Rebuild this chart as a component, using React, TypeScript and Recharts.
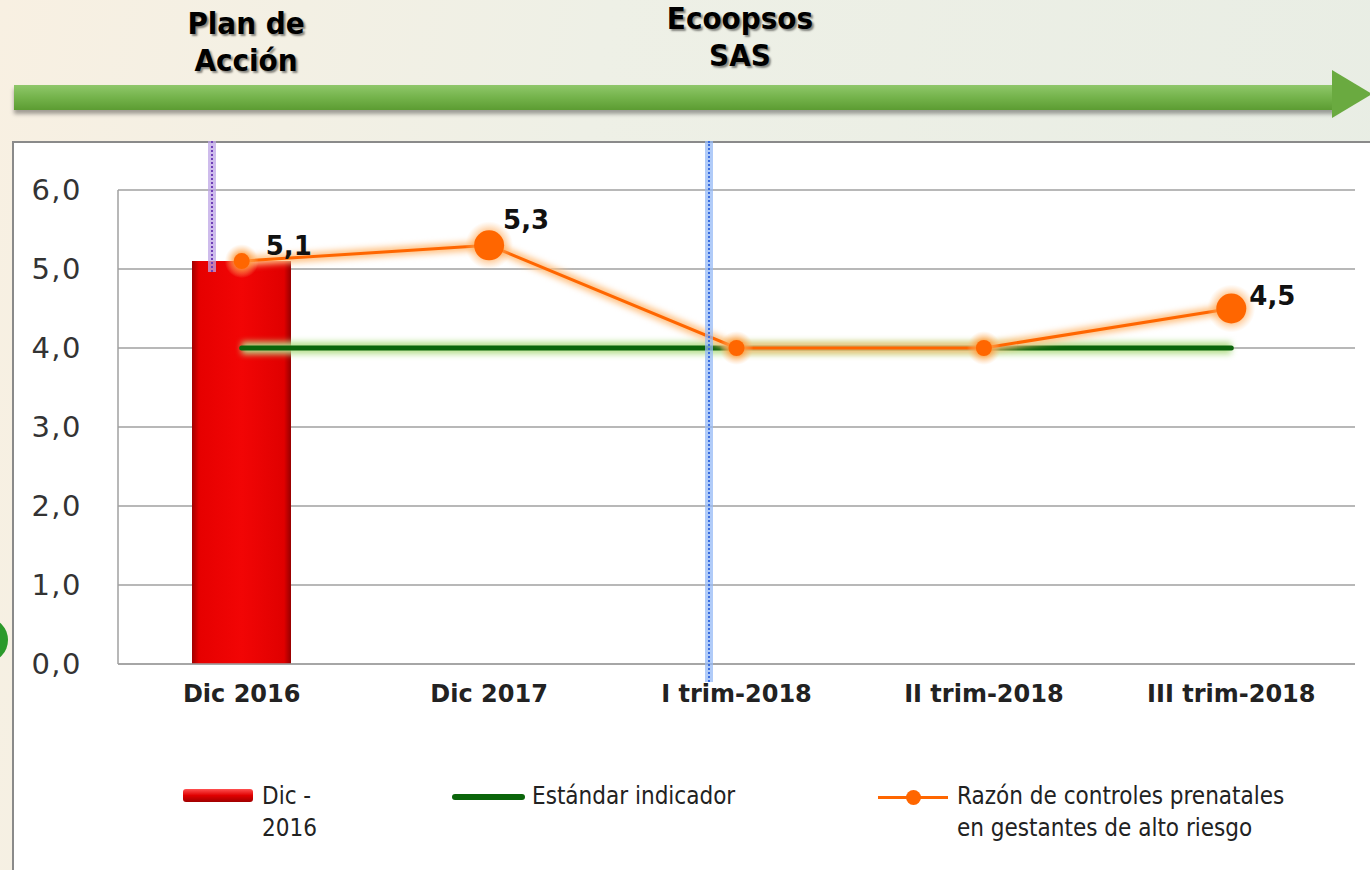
import { ComposedChart, Bar, Line, XAxis, YAxis, CartesianGrid } from "recharts"

const categories = ["Dic 2016", "Dic 2017", "I trim-2018", "II trim-2018", "III trim-2018"]
const barValues = [5.1, null, null, null, null]
const standardValues = [4.0, 4.0, 4.0, 4.0, 4.0]
const ratioValues = [5.1, 5.3, 4.0, 4.0, 4.5]
const yTicks = [0, 1, 2, 3, 4, 5, 6]
const labelledPoints = [0, 1, 4]

const data = categories.map((name, i) => ({
  name,
  dic2016: barValues[i],
  estandar: standardValues[i],
  razon: ratioValues[i],
}))

const dotRadius = [8, 15, 8, 8, 15]
const labelOffset = [
  [24, -14],
  [14, -24],
  [18, -11],
]

const fmt = (v: number) => v.toFixed(1).replace(".", ",")

const RatioDot = (props: any) => {
  const { cx, cy, index } = props
  if (cx == null || cy == null) return null
  return (
    <g key={index}>
      <circle cx={cx} cy={cy} r={dotRadius[index] + 9} fill="url(#dotHalo)" />
      <circle cx={cx} cy={cy} r={dotRadius[index]} fill="#ff6600" />
    </g>
  )
}

const RatioLabel = (props: any) => {
  const { x, y, value, index } = props
  const k = labelledPoints.indexOf(index)
  if (k < 0) return null
  return (
    <text
      x={x + labelOffset[k][0]}
      y={y + labelOffset[k][1]}
      dominantBaseline="middle"
      fontFamily="DejaVu Sans"
      fontWeight="bold"
      fontSize={26}
      fill="#111"
    >
      {fmt(value)}
    </text>
  )
}

const legendText: React.CSSProperties = {
  position: "absolute",
  fontFamily: "'DejaVu Sans Condensed', 'DejaVu Sans'",
  fontSize: 24,
  lineHeight: "32px",
  color: "#222",
}

export default function App() {
  return (
    <div
      style={{
        position: "fixed",
        left: 0,
        top: 0,
        width: 1370,
        height: 870,
        overflow: "hidden",
        background: "linear-gradient(100deg, #f8f0e2 0%, #eef0e6 40%, #e8ede4 100%)",
      }}
    >
      <style>{`.glow { filter: blur(3px); }`}</style>

      {/* header */}
      {[
        { lines: ["Plan de", "Acción"], cx: 246, top: 5 },
        { lines: ["Ecoopsos", "SAS"], cx: 740, top: 0 },
      ].map((h) => (
        <div
          key={h.lines[0]}
          style={{
            position: "absolute",
            left: h.cx - 120,
            top: h.top,
            width: 240,
            textAlign: "center",
            fontFamily: "'DejaVu Sans Condensed', 'DejaVu Sans'",
            fontWeight: "bold",
            fontSize: 31,
            lineHeight: "37px",
            color: "#000",
            textShadow: "2px 2px 2px rgba(0,0,0,0.45)",
          }}
        >
          {h.lines[0]}
          <br />
          {h.lines[1]}
        </div>
      ))}

      {/* green arrow */}
      <div
        style={{
          position: "absolute",
          left: 14,
          top: 85,
          width: 1322,
          height: 25,
          background: "linear-gradient(180deg, #8fc76a 0%, #74b34b 50%, #5c9c32 100%)",
          boxShadow: "0 4px 4px rgba(0,0,0,0.35)",
        }}
      />
      <div
        style={{
          position: "absolute",
          left: 1332,
          top: 70,
          width: 0,
          height: 0,
          borderTop: "24px solid transparent",
          borderBottom: "24px solid transparent",
          borderLeft: "40px solid #6aaa40",
        }}
      />

      {/* green circle at left edge */}
      <div
        style={{
          position: "absolute",
          left: -34,
          top: 618,
          width: 42,
          height: 44,
          borderRadius: "50%",
          background: "#2b9a2b",
        }}
      />

      {/* chart frame */}
      <div
        style={{
          position: "absolute",
          left: 12,
          top: 141,
          width: 1370,
          height: 760,
          background: "#fff",
          borderLeft: "2px solid #8a8a8a",
          borderTop: "2px solid #8a8a8a",
        }}
      />
      <div style={{ position: "absolute", left: 14, top: 143 }}>
        <ComposedChart
          width={1356}
          height={727}
          data={data}
          margin={{ top: 47, right: 15, left: 14, bottom: 166 }}
        >
          <defs>
            <linearGradient id="barRed" x1="0" y1="0" x2="1" y2="0">
              <stop offset="0%" stopColor="#a00000" />
              <stop offset="7%" stopColor="#e60000" />
              <stop offset="50%" stopColor="#f20505" />
              <stop offset="93%" stopColor="#e00000" />
              <stop offset="100%" stopColor="#960000" />
            </linearGradient>
            <radialGradient id="dotHalo">
              <stop offset="45%" stopColor="#ff9a3c" stopOpacity={0.8} />
              <stop offset="100%" stopColor="#ffc080" stopOpacity={0} />
            </radialGradient>
          </defs>
          <CartesianGrid vertical={false} stroke="#a0a0a0" strokeWidth={1.5} />
          <XAxis
            dataKey="name"
            axisLine={{ stroke: "#a0a0a0", strokeWidth: 1.5 }}
            tickLine={false}
            tickSize={0}
            tickMargin={21}
            height={40}
            tick={{ fontFamily: "DejaVu Sans", fontWeight: "bold", fontSize: 24, fill: "#222" }}
          />
          <YAxis
            domain={[0, 6]}
            ticks={yTicks}
            tickFormatter={fmt}
            width={90}
            axisLine={{ stroke: "#a0a0a0", strokeWidth: 1.5 }}
            tickLine={false}
            tickSize={0}
            tickMargin={36}
            tick={{ fontFamily: "DejaVu Sans", fontSize: 29, fill: "#333", letterSpacing: 1.5 }}
          />
          <Bar dataKey="dic2016" name="Dic - 2016" barSize={99} fill="url(#barRed)" isAnimationActive={false} />
          <Line
            className="glow"
            dataKey="estandar"
            stroke="#b5df8c"
            strokeWidth={12}
            dot={false}
            activeDot={false}
            legendType="none"
            isAnimationActive={false}
          />
          <Line
            dataKey="estandar"
            name="Estándar indicador"
            stroke="#0b650b"
            strokeWidth={5}
            strokeLinecap="round"
            dot={false}
            activeDot={false}
            isAnimationActive={false}
          />
          <Line
            className="glow"
            dataKey="razon"
            stroke="#ffc080"
            strokeWidth={9}
            dot={false}
            activeDot={false}
            legendType="none"
            isAnimationActive={false}
          />
          <Line
            dataKey="razon"
            name="Razón de controles prenatales en gestantes de alto riesgo"
            stroke="#ff6600"
            strokeWidth={3}
            dot={<RatioDot />}
            activeDot={false}
            label={<RatioLabel />}
            isAnimationActive={false}
          />
        </ComposedChart>
      </div>

      {/* period markers */}
      <div style={{ position: "absolute", left: 208, top: 141, width: 8, height: 131, background: "rgba(190,165,230,0.75)" }} />
      <div style={{ position: "absolute", left: 211, top: 141, width: 0, height: 131, borderLeft: "2px dotted #7040b8" }} />
      <div style={{ position: "absolute", left: 705, top: 141, width: 8, height: 541, background: "rgba(150,185,245,0.75)" }} />
      <div style={{ position: "absolute", left: 708, top: 141, width: 0, height: 541, borderLeft: "2px dotted #3a6de0" }} />

      {/* legend */}
      <div
        style={{
          position: "absolute",
          left: 183,
          top: 789,
          width: 70,
          height: 13,
          borderRadius: 3,
          background: "linear-gradient(180deg, #ff5050 0%, #e00000 50%, #a00000 100%)",
        }}
      />
      <div style={{ ...legendText, left: 262, top: 780 }}>
        Dic -
        <br />
        2016
      </div>
      <div style={{ position: "absolute", left: 452, top: 794, width: 73, height: 6, borderRadius: 3, background: "#0b650b" }} />
      <div style={{ ...legendText, left: 532, top: 780 }}>Estándar indicador</div>
      <div style={{ position: "absolute", left: 878, top: 796, width: 70, height: 3, background: "#ff6600" }} />
      <div
        style={{
          position: "absolute",
          left: 906,
          top: 790,
          width: 15,
          height: 15,
          borderRadius: "50%",
          background: "#ff6600",
        }}
      />
      <div style={{ ...legendText, left: 957, top: 780 }}>
        Razón de controles prenatales
        <br />
        en gestantes de alto riesgo
      </div>
    </div>
  )
}
